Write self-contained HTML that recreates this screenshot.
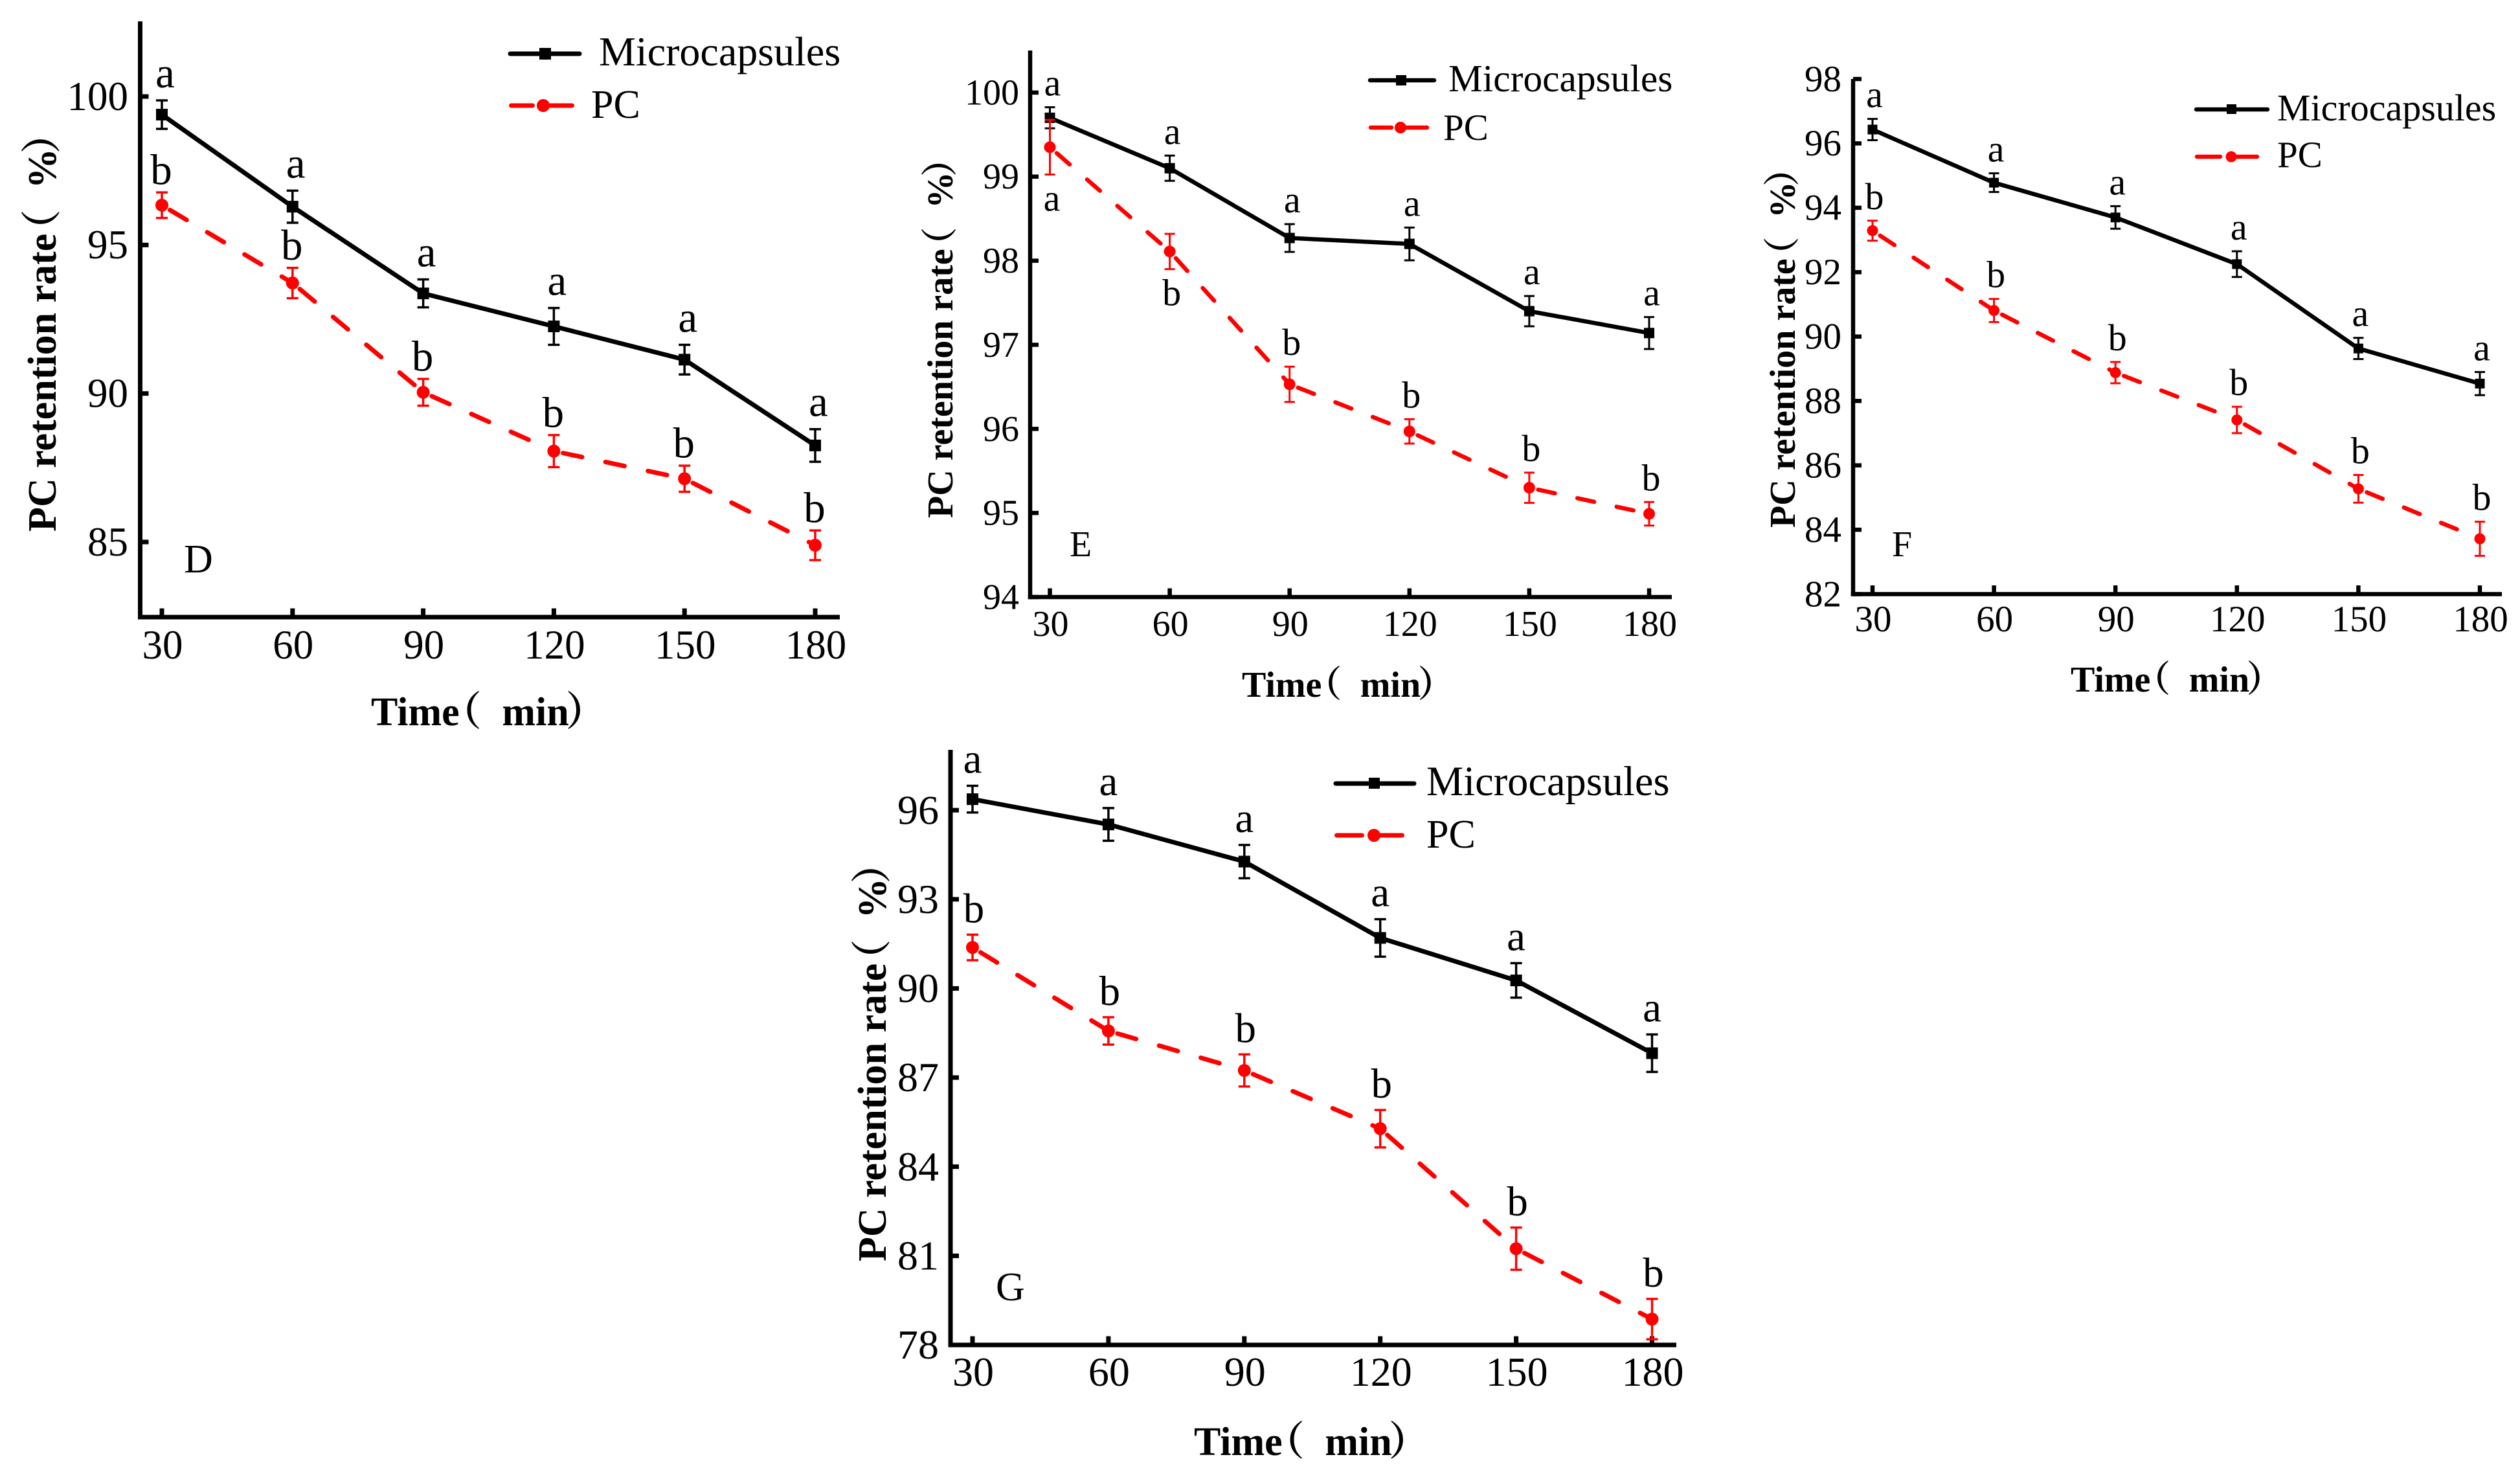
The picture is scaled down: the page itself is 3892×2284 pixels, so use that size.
<!DOCTYPE html>
<html lang="en">
<head>
<meta charset="utf-8">
<title>PC retention rate over time</title>
<style>
html,body{margin:0;padding:0;background:#fff;width:3892px;height:2284px;overflow:hidden}
svg{display:block}
text{font-family:"Liberation Serif","Noto Serif CJK SC",serif;fill:#000}
.ttl{font-weight:bold}
</style>
</head>
<body>
<svg id="figure" xmlns="http://www.w3.org/2000/svg" width="3892" height="2284" viewBox="0 0 3892 2284">
<rect x="0" y="0" width="3892" height="2284" fill="#fff"/>

<g id="panel-d">
  <text class="ttl" font-size="62" transform="translate(86,821) rotate(-90)">PC retention rate<tspan dx="-.4em">（</tspan> <tspan dx=".27em">%</tspan><tspan dx="-.13em">）</tspan></text>
  <text class="ttl" font-size="62" x="573" y="1120">Time<tspan dx="-.45em">（</tspan> <tspan dx=".26em">min</tspan><tspan dx="-.08em">）</tspan></text>
  <text font-size="62" x="284" y="884">D</text>
  <g>
    <line x1="788" y1="83" x2="895" y2="83" stroke="#000" stroke-width="7" stroke-linecap="round"/>
    <rect x="833" y="74" width="18" height="18" fill="#000"/>
    <text font-size="64" x="925" y="101">Microcapsules</text>
    <line x1="789.5" y1="163" x2="883.5" y2="163" stroke="#f00" stroke-width="7" stroke-linecap="round" stroke-dasharray="33 23 38"/>
    <circle cx="839" cy="163" r="10" fill="#f00"/>
    <text font-size="62" x="913" y="182">PC</text>
  </g>
</g>

<g id="panel-e">
  <text class="ttl" font-size="56" transform="translate(1471,800) rotate(-90)">PC retention rate<tspan dx="-.4em">（</tspan> <tspan dx=".27em">%</tspan><tspan dx="-.13em">）</tspan></text>
  <text class="ttl" font-size="56" x="1918" y="1076">Time<tspan dx="-.45em">（</tspan> <tspan dx=".26em">min</tspan><tspan dx="-.08em">）</tspan></text>
  <text font-size="56" x="1652" y="859">E</text>
  <g>
    <line x1="2116" y1="124" x2="2215" y2="124" stroke="#000" stroke-width="6.5" stroke-linecap="round"/>
    <rect x="2156" y="116" width="16" height="16" fill="#000"/>
    <text font-size="59.4" x="2237" y="141">Microcapsules</text>
    <line x1="2117" y1="197" x2="2204" y2="197" stroke="#f00" stroke-width="6.5" stroke-linecap="round" stroke-dasharray="32 21 34"/>
    <circle cx="2163" cy="197" r="9" fill="#f00"/>
    <text font-size="57" x="2229" y="216">PC</text>
  </g>
</g>

<g id="panel-f">
  <text class="ttl" font-size="56" transform="translate(2772,815) rotate(-90)">PC retention rate<tspan dx="-.4em">（</tspan> <tspan dx=".27em">%</tspan><tspan dx="-.13em">）</tspan></text>
  <text class="ttl" font-size="56" x="3198" y="1068">Time<tspan dx="-.45em">（</tspan> <tspan dx=".26em">min</tspan><tspan dx="-.08em">）</tspan></text>
  <text font-size="56" x="2922" y="859">F</text>
  <g>
    <line x1="3392" y1="169" x2="3502" y2="169" stroke="#000" stroke-width="6.5" stroke-linecap="round"/>
    <rect x="3439" y="161" width="15" height="15" fill="#000"/>
    <text font-size="58" x="3517" y="186">Microcapsules</text>
    <line x1="3393" y1="242" x2="3486" y2="242" stroke="#f00" stroke-width="6.5" stroke-linecap="round" stroke-dasharray="36 20 37"/>
    <circle cx="3446" cy="242" r="8.5" fill="#f00"/>
    <text font-size="57" x="3517" y="258">PC</text>
  </g>
</g>

<g id="panel-g">
  <text class="ttl" font-size="62" transform="translate(1368,1948) rotate(-90)">PC retention rate<tspan dx="-.4em">（</tspan> <tspan dx=".27em">%</tspan><tspan dx="-.13em">）</tspan></text>
  <text class="ttl" font-size="62" x="1844" y="2247">Time<tspan dx="-.45em">（</tspan> <tspan dx=".26em">min</tspan><tspan dx="-.08em">）</tspan></text>
  <text font-size="62" x="1538" y="2008">G</text>
  <g>
    <line x1="2063" y1="1210" x2="2184" y2="1210" stroke="#000" stroke-width="7" stroke-linecap="round"/>
    <rect x="2114" y="1201" width="17" height="17" fill="#000"/>
    <text font-size="64.4" x="2203" y="1228">Microcapsules</text>
    <line x1="2064.5" y1="1290" x2="2165.5" y2="1290" stroke="#f00" stroke-width="7" stroke-linecap="round" stroke-dasharray="39 23 39"/>
    <circle cx="2122" cy="1290" r="10" fill="#f00"/>
    <text font-size="62" x="2203" y="1309">PC</text>
  </g>
</g>
</svg>

<script>
const categories = [30, 60, 90, 120, 150, 180];
const xTickLabels = ['30', '60', '90', '120', '150', '180'];

const dYTicks = [85, 90, 95, 100];
const dMicro = [99.39, 96.29, 93.37, 92.26, 91.14, 88.25];
const dMicroErr = [0.48, 0.54, 0.47, 0.62, 0.50, 0.55];
const dMicroLetters = ['a', 'a', 'a', 'a', 'a', 'a'];
const dMicroSides = ['up', 'up', 'up', 'up', 'up', 'up'];
const dPc = [96.34, 93.72, 90.04, 88.06, 87.13, 84.89];
const dPcErr = [0.43, 0.51, 0.45, 0.54, 0.44, 0.50];
const dPcLetters = ['b', 'b', 'b', 'b', 'b', 'b'];
const dPcSides = ['up', 'up', 'up', 'up', 'up', 'up'];

const eYTicks = [94, 95, 96, 97, 98, 99, 100];
const eMicro = [99.70, 99.10, 98.27, 98.20, 97.40, 97.14];
const eMicroErr = [0.125, 0.15, 0.165, 0.195, 0.18, 0.19];
const eMicroLetters = ['a', 'a', 'a', 'a', 'a', 'a'];
const eMicroSides = ['up', 'up', 'up', 'up', 'up', 'up'];
const ePc = [99.35, 98.11, 96.53, 95.97, 95.30, 94.99];
const ePcErr = [0.325, 0.21, 0.21, 0.145, 0.18, 0.14];
const ePcLetters = ['a', 'b', 'b', 'b', 'b', 'b'];
const ePcSides = ['down', 'down', 'up', 'up', 'up', 'up'];

const fYTicks = [82, 84, 86, 88, 90, 92, 94, 96, 98];
const fMicro = [96.43, 94.78, 93.70, 92.25, 89.63, 88.54];
const fMicroErr = [0.33, 0.29, 0.35, 0.40, 0.33, 0.36];
const fMicroLetters = ['a', 'a', 'a', 'a', 'a', 'a'];
const fMicroSides = ['up', 'up', 'up', 'up', 'up', 'up'];
const fPc = [93.29, 90.81, 88.88, 87.41, 85.27, 83.72];
const fPcErr = [0.31, 0.36, 0.33, 0.41, 0.43, 0.53];
const fPcLetters = ['b', 'b', 'b', 'b', 'b', 'b'];
const fPcSides = ['up', 'up', 'up', 'up', 'up', 'up'];

const gYTicks = [78, 81, 84, 87, 90, 93, 96];
const gMicro = [96.37, 95.52, 94.27, 91.70, 90.27, 87.82];
const gMicroErr = [0.45, 0.55, 0.56, 0.63, 0.58, 0.63];
const gMicroLetters = ['a', 'a', 'a', 'a', 'a', 'a'];
const gMicroSides = ['up', 'up', 'up', 'up', 'up', 'up'];
const gPc = [91.38, 88.57, 87.24, 85.28, 81.24, 78.87];
const gPcErr = [0.43, 0.46, 0.54, 0.63, 0.71, 0.68];
const gPcLetters = ['b', 'b', 'b', 'b', 'b', 'b'];
const gPcSides = ['up', 'up', 'up', 'up', 'up', 'up'];

const layouts = [
  {id:'panel-d', axisX:216.5, axisY:953, axisTop:33, axisRight:1297, px30:250, px180:1259, yMin:82.47, yMax:102.53,
   font:63, letterFont:67, xLabelY:1017, yLabelX:198, lw:7, dash:'30 37', dashOffset:-14.5, marker:18, cap:9, ebw:3.5, microGap:20, pcGap:12.5, belowGap:56, microDx:5, pcDx:-1,
   yTicks:dYTicks, micro:dMicro, microErr:dMicroErr, microLetters:dMicroLetters, microSides:dMicroSides, pc:dPc, pcErr:dPcErr, pcLetters:dPcLetters, pcSides:dPcSides},
  {id:'panel-e', axisX:1591, axisY:922, axisTop:78, axisRight:2582, px30:1621.5, px180:2547, yMin:94, yMax:100.5,
   font:56, letterFont:58, xLabelY:982, yLabelX:1574, lw:6.5, dash:'26.5 35.5', dashOffset:-14, marker:16, cap:8, ebw:3, microGap:18, pcGap:18, belowGap:56, microDx:4, pcDx:3,
   yTicks:eYTicks, micro:eMicro, microErr:eMicroErr, microLetters:eMicroLetters, microSides:eMicroSides, pc:ePc, pcErr:ePcErr, pcLetters:ePcLetters, pcSides:ePcSides},
  {id:'panel-f', axisX:2862, axisY:917.5, axisTop:122, axisRight:3864, px30:2892, px180:3830, yMin:82, yMax:98,
   font:57, letterFont:58, xLabelY:975, yLabelX:2844, lw:6.5, dash:'26.5 35.5', dashOffset:-14, marker:15, cap:8, ebw:3, microGap:18, pcGap:18, belowGap:56, microDx:3, pcDx:3,
   yTicks:fYTicks, micro:fMicro, microErr:fMicroErr, microLetters:fMicroLetters, microSides:fMicroSides, pc:fPc, pcErr:fPcErr, pcLetters:fPcLetters, pcSides:fPcSides},
  {id:'panel-g', axisX:1468, axisY:2077, axisTop:1158, axisRight:2589, px30:1502, px180:2551.5, yMin:78, yMax:98.03,
   font:64, letterFont:65, xLabelY:2140, yLabelX:1450, lw:7, dash:'30 37', dashOffset:-14.5, marker:18, cap:9, ebw:3.5, microGap:20, pcGap:19, belowGap:56, microDx:0, pcDx:2,
   yTicks:gYTicks, micro:gMicro, microErr:gMicroErr, microLetters:gMicroLetters, microSides:gMicroSides, pc:gPc, pcErr:gPcErr, pcLetters:gPcLetters, pcSides:gPcSides}
];

const NS = 'http://www.w3.org/2000/svg';

function xScale(p, v) {
  return p.px30 + (v - categories[0]) * (p.px180 - p.px30) / (categories[categories.length - 1] - categories[0]);
}
function yScale(p, v) {
  return p.axisY - (v - p.yMin) * (p.axisY - p.axisTop) / (p.yMax - p.yMin);
}
function make(tag, attrs, parent) {
  const n = document.createElementNS(NS, tag);
  for (const k in attrs) n.setAttribute(k, attrs[k]);
  parent.appendChild(n);
  return n;
}

function drawAxes(p, root) {
  const half = p.lw / 2;
  let el = make('line', {x1:p.axisX, y1:p.axisTop, x2:p.axisX, y2:p.axisY + half, stroke:'#000', 'stroke-width':p.lw}, root);
  
  
  el = make('line', {x1:p.axisX - half, y1:p.axisY, x2:p.axisRight, y2:p.axisY, stroke:'#000', 'stroke-width':p.lw}, root);
  
  

  categories.forEach(function (c, i) {
    const x = xScale(p, c);
    let t = make('line', {x1:x, y1:p.axisY, x2:x, y2:p.axisY - 13.5, stroke:'#000', 'stroke-width':p.lw}, root);
    
    
    t = make('text', {x:x + 1, y:p.xLabelY, 'font-size':p.font, 'text-anchor':'middle'}, root);
    t.textContent = xTickLabels[i];
    
    
  });

  p.yTicks.forEach(function (v) {
    const y = yScale(p, v);
    let t = make('line', {x1:p.axisX, y1:y, x2:p.axisX + 13, y2:y, stroke:'#000', 'stroke-width':p.lw}, root);
    
    
    t = make('text', {x:p.yLabelX, y:y + p.font * 0.33, 'font-size':p.font, 'text-anchor':'end'}, root);
    t.textContent = String(v);
    
    
  });
}

function drawSeries(p, root, name, values, errs, letters, sides, color, dash, gap, letterDx) {
  for (let i = 0; i < values.length - 1; i++) {
    const attrs = {x1:xScale(p, categories[i]), y1:yScale(p, values[i]), x2:xScale(p, categories[i + 1]), y2:yScale(p, values[i + 1]), stroke:color, 'stroke-width':p.lw};
    if (dash) {
      attrs['stroke-dasharray'] = dash;
      attrs['stroke-dashoffset'] = p.dashOffset;
      attrs['stroke-linecap'] = 'round';
    }
    const seg = make('line', attrs, root);
    
    
  }
  values.forEach(function (v, i) {
    const x = xScale(p, categories[i]);
    const y = yScale(p, v);
    const top = yScale(p, v + errs[i]);
    const bot = yScale(p, v - errs[i]);
    const eb = make('path', {d:'M' + (x - p.cap) + ' ' + top + 'H' + (x + p.cap) + 'M' + x + ' ' + top + 'V' + bot + 'M' + (x - p.cap) + ' ' + bot + 'H' + (x + p.cap), fill:'none', stroke:color, 'stroke-width':p.ebw}, root);
    
    

    let mk;
    if (name === 'microcapsules') {
      mk = make('rect', {x:x - p.marker / 2, y:y - p.marker / 2, width:p.marker, height:p.marker, fill:color}, root);
    } else {
      mk = make('circle', {cx:x, cy:y, r:p.marker / 2 + 1, fill:color}, root);
    }
    
    

    const labelY = sides[i] === 'down' ? bot + p.belowGap : top - gap;
    const lb = make('text', {x:x + letterDx, y:labelY, 'font-size':p.letterFont, 'text-anchor':'middle'}, root);
    lb.textContent = letters[i];
    
    
  });
}

layouts.forEach(function (p) {
  const root = document.getElementById(p.id);
  drawAxes(p, root);
  drawSeries(p, root, 'microcapsules', p.micro, p.microErr, p.microLetters, p.microSides, '#000000', null, p.microGap, p.microDx);
  drawSeries(p, root, 'pc', p.pc, p.pcErr, p.pcLetters, p.pcSides, '#ff0000', p.dash, p.pcGap, p.pcDx);
});
</script>
</body>
</html>
